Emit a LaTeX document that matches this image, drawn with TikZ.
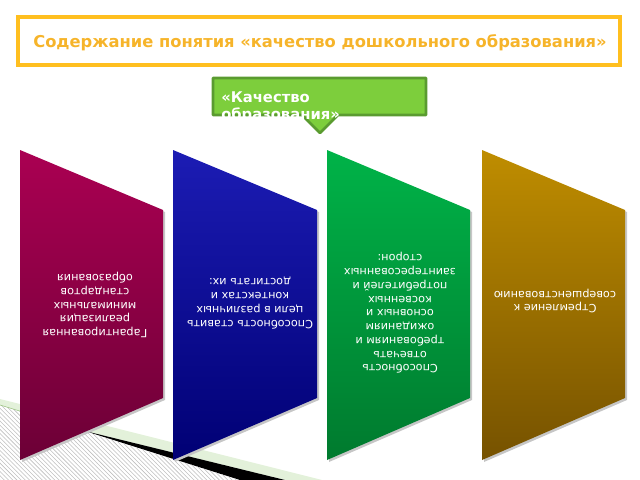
\documentclass[tikz,border=0pt]{standalone}
\usepackage{fontspec}
\setmainfont{DejaVu Sans}
\usepackage{xcolor}
\usetikzlibrary{patterns}
\definecolor{titleline}{HTML}{FFBF1F}
\definecolor{titletext}{HTML}{F6B42A}
\definecolor{qfill}{HTML}{7DCE3C}
\definecolor{qline}{HTML}{5A9B30}
\definecolor{magtop}{HTML}{AA0052}
\definecolor{magbot}{HTML}{6C0036}
\definecolor{bluetop}{HTML}{1C1CB4}
\definecolor{bluebot}{HTML}{000074}
\definecolor{greentop}{HTML}{00B348}
\definecolor{greenbot}{HTML}{007A2E}
\definecolor{goldtop}{HTML}{BF8D00}
\definecolor{goldbot}{HTML}{765200}
\definecolor{band}{HTML}{E3F1DA}
\tikzset{
  titlebox/.style={draw=titleline, line width=2.2pt},
  titlelbl/.style={text=titletext, font=\bfseries\fontsize{11.6}{14}\selectfont},
  qbox/.style={draw=qline, fill=qfill, line width=2pt, line join=round},
  qlbl/.style={text=white, font=\bfseries\fontsize{10.5}{12.5}\selectfont,
    align=left, anchor=north west, inner sep=0pt},
  shadow/.style={fill=gray!45},
  blocklbl/.style={text=white, rotate=180, align=center,
    font=\fontsize{8}{9.8}\selectfont}
}

\begin{document}
\begin{tikzpicture}[x=0.025cm,y=-0.025cm]
  \useasboundingbox (0,0) rectangle (640,480);

  % background stripes, lower left
  \fill[band] (0,399) -- (322,480) -- (285,480) -- (85,431) -- (0,405) -- cycle;
  \fill[black] (85,431) -- (285,480) -- (240,480) -- cycle;
  \fill[pattern=north west lines, pattern color=gray!50] (0,405) -- (240,480) -- (0,480) -- cycle;
  \draw[qline!60, line width=0.4pt] (0,405) -- (85,431);

  % title
  \draw[titlebox] (18,17) rectangle (620,65);
  \node[titlelbl] (title) at (320,43) {Содержание понятия «качество дошкольного образования»};

  % callout
  \draw[qbox] (213,78) -- (426,78) -- (426,115) -- (338,115) -- (320,133)
    -- (302,115) -- (213,115) -- cycle;
  \node[qlbl] (quality) at (221,91) {«Качество\\образования»};

  % four blocks
  \fill[shadow] (22,152) -- (165,212) -- (165,400) -- (22,462) -- cycle;
  \shade[top color=magtop, bottom color=magbot] (20,150) -- (163,210) -- (163,398) -- (20,460) -- cycle;
  \fill[shadow] (175,152) -- (319,212) -- (319,400) -- (175,462) -- cycle;
  \shade[top color=bluetop, bottom color=bluebot] (173,150) -- (317,210) -- (317,398) -- (173,460) -- cycle;
  \fill[shadow] (329,152) -- (472,212) -- (472,400) -- (329,462) -- cycle;
  \shade[top color=greentop, bottom color=greenbot] (327,150) -- (470,210) -- (470,398) -- (327,460) -- cycle;
  \fill[shadow] (484,152) -- (627,212) -- (627,400) -- (484,462) -- cycle;
  \shade[top color=goldtop, bottom color=goldbot] (482,150) -- (625,210) -- (625,398) -- (482,460) -- cycle;

  \node[blocklbl] (guarantee) at (95,305) {Гарантированная\\реализация\\минимальных\\стандартов\\образования};
  \node[blocklbl] (goals) at (250,303) {Способность ставить\\цели в различных\\контекстах и\\достигать их:};
  \node[blocklbl] (needs) at (400,313) {Способность\\отвечать\\требованиям и\\ожиданиям\\основных и\\косвенных\\потребителей и\\заинтересованных\\сторон:};
  \node[blocklbl] (improve) at (555,301) {Стремление к\\совершенствованию};
\end{tikzpicture}
\end{document}
